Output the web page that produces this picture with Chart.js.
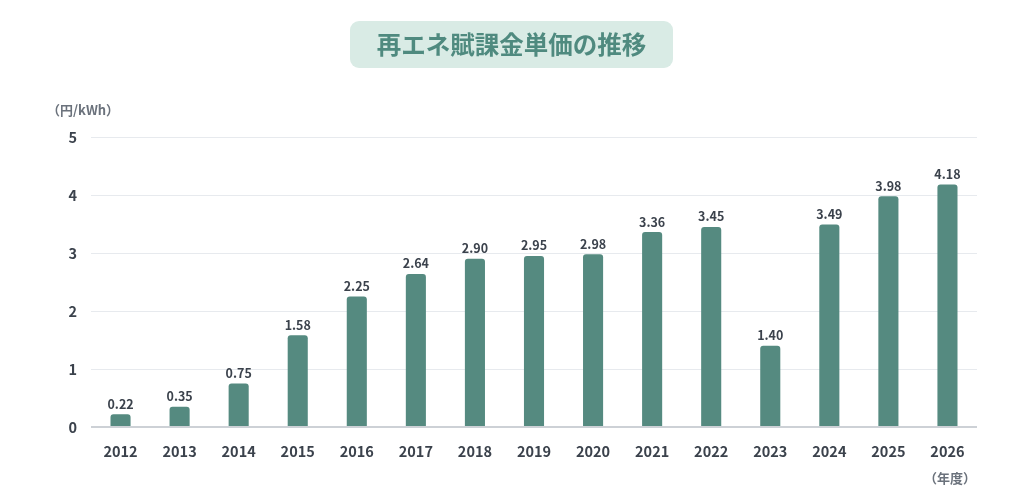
<!DOCTYPE html>
<html lang="ja">
<head>
  <meta charset="UTF-8" />
  <title>再エネ賦課金単価の推移</title>
  <script src="https://cdn.jsdelivr.net/npm/chart.js"></script>
  <style>
    html, body { margin: 0; padding: 0; background: #fff; }
    #wrap { position: relative; width: 1024px; height: 501px; }
  </style>
</head>
<body>
  <div id="wrap"><canvas id="chart" width="1024" height="501"></canvas></div>
  <script>
    const years = ["2012","2013","2014","2015","2016","2017","2018","2019","2020","2021","2022","2023","2024","2025","2026"];
    const levy = [0.22, 0.35, 0.75, 1.58, 2.25, 2.64, 2.90, 2.95, 2.98, 3.36, 3.45, 1.40, 3.49, 3.98, 4.18];
    const titleText = "再エネ賦課金単価の推移";
    const yUnit = "（円/kWh）";
    const xUnit = "（年度）";

    const FONT = "'Noto Sans CJK JP', 'Noto Sans', sans-serif";
    const TEXT = "#3b424c";

    // title box, unit labels and value labels
    const decor = {
      id: "decor",
      afterDraw(chart) {
        const c = chart.ctx;
        c.save();
        // title pill
        c.fillStyle = "#d9ebe5";
        c.beginPath();
        c.roundRect(350, 21, 323, 47, 9);
        c.fill();
        c.fillStyle = "#4f8a7f";
        c.font = "bold 24.5px " + FONT;
        c.textAlign = "center";
        c.textBaseline = "middle";
        c.fillText(titleText, 511.5, 45);

        // units
        c.fillStyle = "#6b727c";
        c.font = "bold 13px " + FONT;
        c.textAlign = "left";
        c.fillText(yUnit, 47, 110);
        c.textAlign = "center";
        c.fillText(xUnit, 950, 478);

        // value labels
        c.fillStyle = TEXT;
        c.font = "bold 12.5px " + FONT;
        c.textBaseline = "bottom";
        const meta = chart.getDatasetMeta(0);
        meta.data.forEach((bar, i) => {
          c.fillText(levy[i].toFixed(2), bar.x, bar.y - 4);
        });
        c.restore();
      }
    };

    new Chart(document.getElementById("chart"), {
      type: "bar",
      data: {
        labels: years,
        datasets: [{
          data: levy,
          backgroundColor: "#558a80",
          borderRadius: { topLeft: 3, topRight: 3 },
          borderSkipped: "bottom",
          barPercentage: 0.68,
          categoryPercentage: 0.5
        }]
      },
      options: {
        responsive: false,
        animation: false,
        layout: { padding: { top: 137, right: 47, bottom: 0, left: 0 } },
        plugins: { legend: { display: false }, tooltip: { enabled: false } },
        scales: {
          x: {
            grid: { display: false, drawTicks: false },
            border: { display: false },
            ticks: { color: TEXT, font: { family: FONT, size: 14.5, weight: "bold" }, padding: 16 },
            afterFit(s) { s.height = 74; }
          },
          y: {
            min: 0,
            max: 5,
            grid: {
              drawTicks: false,
              color: ctx => ctx.tick && ctx.tick.value === 0 ? "#cdd1d6" : "#e7eaee",
              lineWidth: ctx => ctx.tick && ctx.tick.value === 0 ? 2 : 1
            },
            border: { display: false },
            ticks: { stepSize: 1, color: TEXT, font: { family: FONT, size: 14.5, weight: "bold" }, padding: 14 },
            afterFit(s) { s.width = 91; }
          }
        }
      },
      plugins: [decor]
    });
  </script>
</body>
</html>
